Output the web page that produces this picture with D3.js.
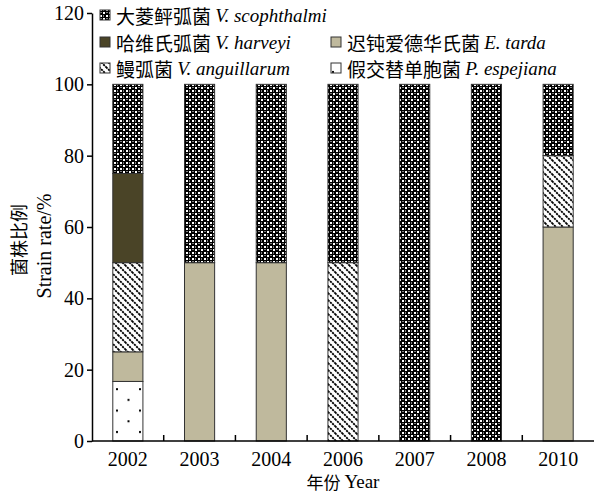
<!DOCTYPE html>
<html lang="zh">
<head>
<meta charset="utf-8" />
<title>Strain rate</title>
<style>
    body { margin: 0; background: #fff; }
    svg { display: block; }
    text { font-family: 'Liberation Serif', 'Noto Sans CJK SC', serif; fill: #000; }
    .axis path, .axis line { stroke: #000; stroke-width: 1.5px; }
    .axis text { font-size: 20px; font-family: 'Liberation Serif', serif; }
    .leg text { font-size: 19px; dominant-baseline: central; }
    .sp { font-style: italic; }
    rect.bar { stroke: #333; stroke-width: 1px; }
</style>
<script src="https://cdn.jsdelivr.net/npm/d3@7"></script>
</head>
<body>
<svg id="chart" width="594" height="492"></svg>
<script>
    var years = ["2002", "2003", "2004", "2006", "2007", "2008", "2010"];
    // stacked bottom -> top
    var keys = ["espejiana", "tarda", "anguillarum", "harveyi", "scophthalmi"];
    var espejiana = [16.7, 0, 0, 0, 0, 0, 0];
    var tarda = [8.3, 50, 50, 0, 0, 0, 60];
    var anguillarum = [25, 0, 0, 50, 0, 0, 20];
    var harveyi = [25, 0, 0, 0, 0, 0, 0];
    var scophthalmi = [25, 50, 50, 50, 100, 100, 20];
    var yTicks = [0, 20, 40, 60, 80, 100, 120];

    var cnNames = { scophthalmi: "大菱鲆弧菌", harveyi: "哈维氏弧菌", tarda: "迟钝爱德华氏菌", anguillarum: "鳗弧菌", espejiana: "假交替单胞菌" };
    var spNames = { scophthalmi: "V. scophthalmi", harveyi: "V. harveyi", tarda: "E. tarda", anguillarum: "V. anguillarum", espejiana: "P. espejiana" };

    var series = { espejiana: espejiana, tarda: tarda, anguillarum: anguillarum, harveyi: harveyi, scophthalmi: scophthalmi };
    var table = years.map(function (yr, i) {
        var row = { year: yr };
        keys.forEach(function (k) { row[k] = series[k][i]; });
        return row;
    });

    var svg = d3.select("#chart");
    var defs = svg.append("defs");

    // checker pattern
    var pc = defs.append("pattern").attr("id", "p-scoph").attr("patternUnits", "userSpaceOnUse")
        .attr("width", 6).attr("height", 6);
    pc.append("rect").attr("width", 6).attr("height", 6).attr("fill", "#000");
    pc.append("rect").attr("x", 0).attr("y", 0).attr("width", 2).attr("height", 2).attr("fill", "#fff");
    pc.append("rect").attr("x", 3).attr("y", 3).attr("width", 2).attr("height", 2).attr("fill", "#fff");
    pc.append("rect").attr("x", 3).attr("y", 0.5).attr("width", 1).attr("height", 1).attr("fill", "#fff");
    pc.append("rect").attr("x", 0.5).attr("y", 3).attr("width", 1).attr("height", 1).attr("fill", "#fff");

    // diagonal hatch
    var ph = defs.append("pattern").attr("id", "p-ang").attr("patternUnits", "userSpaceOnUse")
        .attr("width", 7).attr("height", 7);
    ph.append("rect").attr("width", 7).attr("height", 7).attr("fill", "#fff");
    ph.append("path").attr("d", "M-1,-1L8,8M-1,6L1,8M6,-1L8,1")
        .attr("stroke", "#000").attr("stroke-width", 1.8).attr("stroke-dasharray", "2.2,0.8");

    // sparse dots
    var pd = defs.append("pattern").attr("id", "p-esp").attr("patternUnits", "userSpaceOnUse")
        .attr("x", 112).attr("y", 0).attr("width", 23).attr("height", 21.4);
    pd.append("rect").attr("width", 23).attr("height", 21.4).attr("fill", "#fff");
    pd.append("rect").attr("x", 4).attr("y", 3).attr("width", 2).attr("height", 2).attr("fill", "#000");
    pd.append("rect").attr("x", 15.5).attr("y", 13.7).attr("width", 2).attr("height", 2).attr("fill", "#000");

    var fills = {
        scophthalmi: "url(#p-scoph)",
        harveyi: "#4a4427",
        tarda: "#bfb99d",
        anguillarum: "url(#p-ang)",
        espejiana: "url(#p-esp)"
    };

    var plotLeft = 92, plotRight = 594, plotTop = 13, plotBottom = 441;

    var x = d3.scaleBand().domain(years).range([plotLeft, plotRight])
        .paddingInner(0.58).paddingOuter(0.29);
    var y = d3.scaleLinear().domain([0, 120]).range([plotBottom, plotTop]);

    var stack = d3.stack().keys(keys)(table);

    svg.append("g").selectAll("g").data(stack).enter().append("g")
        .attr("fill", function (d) { return fills[d.key]; })
        .selectAll("rect").data(function (d) { return d.filter(function (s) { return s[1] - s[0] > 0; }); })
        .enter().append("rect").attr("class", "bar")
        .attr("x", function (d) { return x(d.data.year); })
        .attr("width", x.bandwidth())
        .attr("y", function (d) { return y(d[1]); })
        .attr("height", function (d) { return y(d[0]) - y(d[1]); });

    // y axis
    svg.append("g").attr("class", "axis").attr("transform", "translate(" + plotLeft + ",0)")
        .call(d3.axisLeft(y).tickValues(yTicks).tickSize(5).tickSizeOuter(0).tickPadding(3));

    // x axis: labels only, ticks between bars pointing up
    var xAxis = svg.append("g").attr("class", "axis").attr("transform", "translate(0," + plotBottom + ")")
        .call(d3.axisBottom(x).tickSize(0).tickPadding(11));
    xAxis.select(".domain").remove();
    svg.append("line").attr("x1", plotLeft).attr("x2", plotRight).attr("y1", plotBottom).attr("y2", plotBottom)
        .attr("stroke", "#000").attr("stroke-width", 1.5);
    var gap = (x.step() - x.bandwidth()) / 2;
    svg.append("g").selectAll("line").data(years.slice(1)).enter().append("line")
        .attr("x1", function (d) { return x(d) - gap; }).attr("x2", function (d) { return x(d) - gap; })
        .attr("y1", plotBottom).attr("y2", plotBottom - 6)
        .attr("stroke", "#000").attr("stroke-width", 1.5);

    // axis titles
    var xt = svg.append("text").attr("x", 343).attr("y", 481).attr("text-anchor", "middle")
        .style("font-size", "19px").style("dominant-baseline", "central");
    xt.append("tspan").style("font-family", "'Noto Sans CJK SC'").style("font-size", "17px").text("年份 ");
    xt.append("tspan").text("Year");

    svg.append("text").attr("transform", "translate(18,240) rotate(-90)")
        .attr("text-anchor", "middle").style("dominant-baseline", "central")
        .style("font-size", "18px").style("font-family", "'Noto Sans CJK SC'").text("菌株比例");
    svg.append("text").attr("transform", "translate(44,246) rotate(-90)")
        .attr("text-anchor", "middle").style("dominant-baseline", "central")
        .style("font-size", "20px").text("Strain rate/%");

    // legend
    var legItems = [
        { key: "scophthalmi", x: 100, y: 15 },
        { key: "harveyi", x: 100, y: 42 },
        { key: "tarda", x: 331, y: 42 },
        { key: "anguillarum", x: 100, y: 68 },
        { key: "espejiana", x: 331, y: 68 }
    ];
    var leg = svg.append("g").attr("class", "leg").selectAll("g").data(legItems).enter().append("g")
        .attr("transform", function (d) { return "translate(" + d.x + "," + d.y + ")"; });
    leg.append("rect").attr("x", 0).attr("y", -5).attr("width", 10).attr("height", 10)
        .attr("fill", function (d) { return fills[d.key]; }).attr("stroke", "#333").attr("stroke-width", 1);
    var lt = leg.append("text").attr("x", 16);
    lt.append("tspan").style("font-family", "'Noto Sans CJK SC'").text(function (d) { return cnNames[d.key] + " "; });
    lt.append("tspan").attr("class", "sp").text(function (d) { return spNames[d.key]; });
</script>
</body>
</html>
